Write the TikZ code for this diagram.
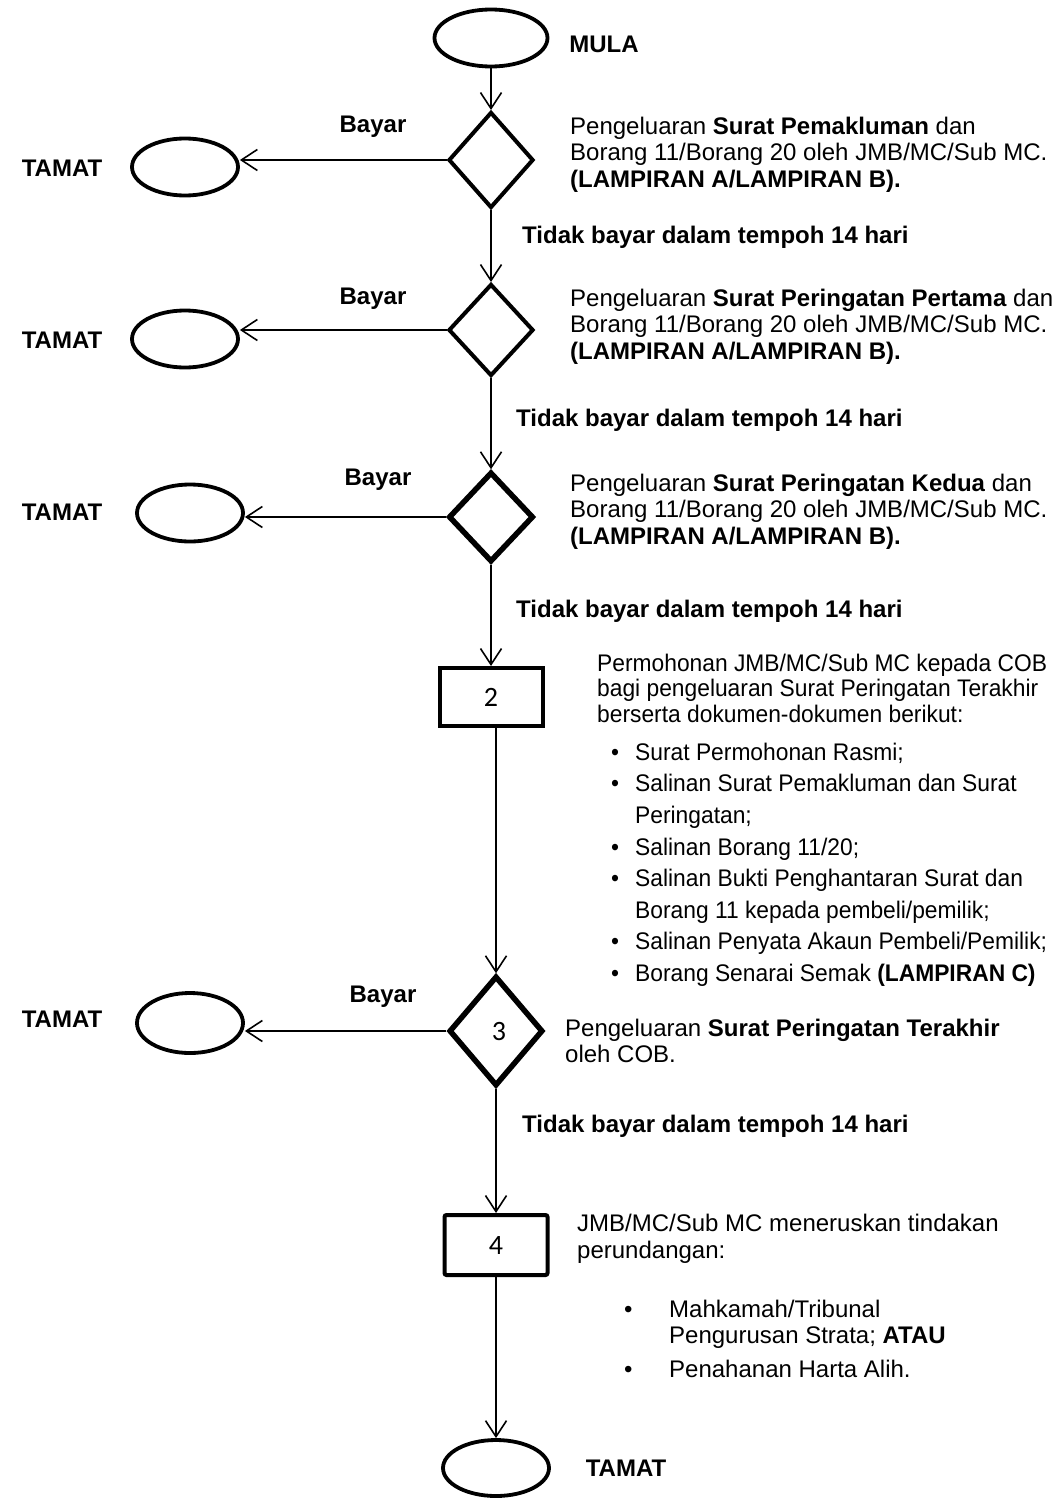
\documentclass[tikz,border=0pt]{standalone}
\usepackage{fontspec}
\setmainfont{Liberation Sans}
\newfontfamily\numfont{Carlito}
\newfontfamily\narrowfont{Liberation Sans}[FakeStretch=0.95]
\usetikzlibrary{arrows.meta,shapes.geometric}

\begin{document}
\begin{tikzpicture}[x=1pt,y=-1pt]
\tikzset{
  terminal/.style={ellipse,draw,line width=3.8pt,inner sep=0pt,minimum width=106pt,minimum height=57pt},
  decision/.style={diamond,draw,line width=4pt,inner sep=0pt,minimum width=85pt,minimum height=96pt,font=\numfont\fontsize{28}{30}\selectfont},
  process/.style={rectangle,draw,line width=4pt,inner sep=0pt,minimum width=103pt,minimum height=58pt,font=\numfont\fontsize{28}{30}\selectfont},
  boldtext/.style={font=\bfseries\fontsize{24}{26.5}\selectfont,inner sep=0pt,anchor=base},
  desc/.style={font=\fontsize{24}{26.5}\selectfont,inner sep=0pt,anchor=north west,align=left},
  directed/.style={-{Straight Barb[length=16pt,width=21pt]},line width=1.6pt}
}
\useasboundingbox (0,0) rectangle (1060,1501);
% main column
\node[terminal,minimum width=113pt,minimum height=57pt] (n_mula) at (491,38) {};
\node[decision] (n_d1) at (491,160) {};
\node[decision,minimum height=92pt] (n_d2) at (491,330) {};
\node[decision,line width=5.5pt,minimum height=90pt] (n_d3) at (491,517) {};
\node[process] (n_box2) at (491,697) {2};
\node[decision,line width=5.5pt,minimum width=94pt,minimum height=110pt] (n_d4) at (496,1031) {\hspace*{6pt}3};
\node[process,rounded corners=2pt,minimum height=60pt] (n_box4) at (496,1245) {4};
\node[terminal,minimum height=56pt] (n_end) at (496,1468) {};
% end states on the left
\node[terminal] (n_e1) at (185,167) {};
\node[terminal] (n_e2) at (185,339) {};
\node[terminal] (n_e3) at (190,513) {};
\node[terminal,minimum height=60pt] (n_e4) at (190,1023) {};
\node[boldtext] (n_tamat1) at (62,176.6) {TAMAT};
\node[boldtext] (n_tamat2) at (62,348.6) {TAMAT};
\node[boldtext] (n_tamat3) at (62,520.6) {TAMAT};
\node[boldtext] (n_tamat4) at (62,1027) {TAMAT};
\node[boldtext] (n_mulatxt) at (604,53) {MULA};
\node[boldtext] (n_endtxt) at (626,1476.6) {TAMAT};
% labels on the connectors
\node[boldtext] (n_bayar1) at (373,132) {Bayar};
\node[boldtext] (n_bayar2) at (373,304) {Bayar};
\node[boldtext] (n_bayar3) at (378,485) {Bayar};
\node[boldtext] (n_bayar4) at (383,1002) {Bayar};
\node[boldtext,anchor=base west] (n_tidak1) at (522,243) {Tidak bayar dalam tempoh 14 hari};
\node[boldtext,anchor=base west] (n_tidak2) at (516,426) {Tidak bayar dalam tempoh 14 hari};
\node[boldtext,anchor=base west] (n_tidak3) at (516,617) {Tidak bayar dalam tempoh 14 hari};
\node[boldtext,anchor=base west] (n_tidak4) at (522,1132) {Tidak bayar dalam tempoh 14 hari};
% descriptions
\node[desc] (n_desc1) at (570,116.7) {Pengeluaran \textbf{Surat Pemakluman} dan\\Borang 11/Borang 20 oleh JMB/MC/Sub MC.\\\textbf{(LAMPIRAN A/LAMPIRAN B).}};
\node[desc] (n_desc2) at (570,288.7) {Pengeluaran \textbf{Surat Peringatan Pertama} dan\\Borang 11/Borang 20 oleh JMB/MC/Sub MC.\\\textbf{(LAMPIRAN A/LAMPIRAN B).}};
\node[desc] (n_desc3) at (570,473.7) {Pengeluaran \textbf{Surat Peringatan Kedua} dan\\Borang 11/Borang 20 oleh JMB/MC/Sub MC.\\\textbf{(LAMPIRAN A/LAMPIRAN B).}};
\node[desc,font=\narrowfont\fontsize{24}{25.5}\selectfont] (n_desc4) at (597,653.7) {Permohonan JMB/MC/Sub MC kepada COB\\bagi pengeluaran Surat Peringatan Terakhir\\berserta dokumen-dokumen berikut:};
\node[desc,font=\narrowfont\fontsize{24}{31.6}\selectfont] (n_list4) at (611,742.7) {\makebox[24pt][l]{\textbullet}Surat Permohonan Rasmi;\\
  \makebox[24pt][l]{\textbullet}Salinan Surat Pemakluman dan Surat\\
  \hspace*{24pt}Peringatan;\\
  \makebox[24pt][l]{\textbullet}Salinan Borang 11/20;\\
  \makebox[24pt][l]{\textbullet}Salinan Bukti Penghantaran Surat dan\\
  \hspace*{24pt}Borang 11 kepada pembeli/pemilik;\\
  \makebox[24pt][l]{\textbullet}Salinan Penyata Akaun Pembeli/Pemilik;\\
  \makebox[24pt][l]{\textbullet}Borang Senarai Semak \textbf{(LAMPIRAN C)}};
\node[desc] (n_desc5) at (565,1018.7) {Pengeluaran \textbf{Surat Peringatan Terakhir}\\oleh COB.};
\node[desc,font=\fontsize{24}{27.5}\selectfont] (n_desc6) at (577,1213.7) {JMB/MC/Sub MC meneruskan tindakan\\perundangan:};
\node[desc,font=\fontsize{24}{26}\selectfont] (n_list6) at (624,1299.7) {\makebox[45pt][l]{\textbullet}Mahkamah/Tribunal\\
  \hspace*{45pt}Pengurusan Strata; \textbf{ATAU}\\[8pt]
  \makebox[45pt][l]{\textbullet}Penahanan Harta Alih.};
% connectors
\draw[directed] (n_mula) -- (n_d1);
\draw[directed] (n_d1) -- (n_d2);
\draw[directed] (n_d2) -- (n_d3);
\draw[directed] (n_d3) -- (n_box2);
\draw[directed] (n_box2.south -| n_d4) -- (n_d4);
\draw[directed] (n_d4) -- (n_box4);
\draw[directed] (n_box4) -- (n_end);
\draw[directed] (n_d1.west) -- (n_d1.west -| n_e1.east);
\draw[directed] (n_d2.west) -- (n_d2.west -| n_e2.east);
\draw[directed] (n_d3.west) -- (n_d3.west -| n_e3.east);
\draw[directed] (n_d4.west) -- (n_d4.west -| n_e4.east);
\end{tikzpicture}
\end{document}
